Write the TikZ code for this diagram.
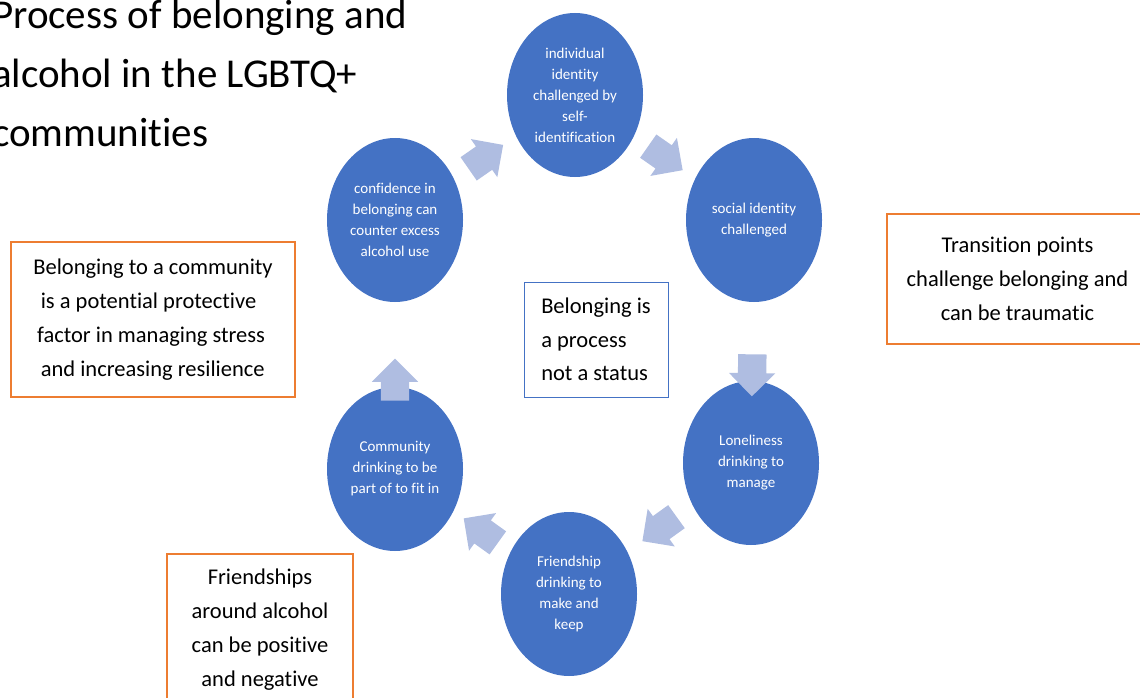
\documentclass[tikz,border=0pt]{standalone}
\usepackage{fontspec}
\setmainfont{Carlito}[Ligatures=NoCommon]
\usetikzlibrary{shapes}

\definecolor{stageblue}{HTML}{4472C4}
\definecolor{flowblue}{HTML}{AFBDE1}
\definecolor{noteorange}{HTML}{ED7D31}

\tikzset{
  stage/.style={shape=ellipse,fill=stageblue,text=white,align=center,inner sep=0pt,minimum width=136pt,minimum height=164pt,font=\fontsize{15}{21}\selectfont},
  flow/.style={single arrow,fill=flowblue,draw=none,inner xsep=0pt,inner ysep=14pt,minimum height=42pt,single arrow head extend=9pt,sloped,allow upside down},
  note/.style={shape=rectangle,draw=noteorange,line width=1.3pt,align=center,inner sep=0pt,font=\fontsize{22.5}{34}\selectfont},
}

\begin{document}
\begin{tikzpicture}[x=1pt,y=-1pt]
\useasboundingbox (0,0) rectangle (1140,698);

\node[anchor=north west,align=left,inner sep=0pt,font=\fontsize{41}{59}\selectfont] (title) at (-8,0) {Process of belonging and\\alcohol in the LGBTQ+\\communities};

\node[stage] (top) at (575,95) {individual\\identity\\challenged by\\self-\\identification};
\node[stage] (social) at (754,220) {social identity\\challenged};
\node[stage] (lonely) at (751,463) {Loneliness\\drinking to\\manage};
\node[stage] (friend) at (569,594) {Friendship\\drinking to\\make and\\keep};
\node[stage] (commun) at (395,469) {Community\\drinking to be\\part of to fit in};
\node[stage] (confid) at (395,220) {confidence in\\belonging can\\counter excess\\alcohol use};

\path (confid) -- node[flow,pos=0.42] (f1) {} (top);
\path (top) -- node[flow,pos=0.42] (f2) {} (social);
\path (social) -- node[flow,pos=0.84] (f3) {} (lonely);
\path (lonely) -- node[flow,pos=0.42] (f4) {} (friend);
\path (friend) -- node[flow,pos=0.42] (f5) {} (commun);
\path (commun) -- node[flow,pos=0] (f6) {} (confid);

\node[note,draw=stageblue,line width=1pt,align=left,minimum width=144pt,minimum height=115pt,font=\fontsize{22.5}{33.5}\selectfont] (status) at (596,339.5) {Belonging is\\a process\\not a status};
\node[note,align=left,minimum width=284pt,minimum height=155pt] (protect) at (153,319.5) {Belonging to a community\\\,\,is a potential protective\\\,factor in managing stress\\\,\,and increasing resilience};
\node[note,minimum width=261pt,minimum height=130pt] (transit) at (1017.5,279) {Transition points\\challenge belonging and\\can be traumatic};
\node[note,minimum width=186pt,minimum height=151pt] (friends) at (260,629.5) {Friendships\\around alcohol\\can be positive\\and negative};
\end{tikzpicture}
\end{document}
